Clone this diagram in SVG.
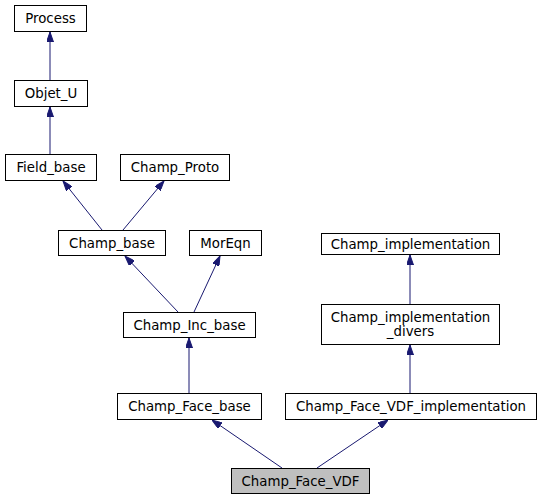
<svg xmlns="http://www.w3.org/2000/svg" width="541" height="500" viewBox="0 0 541 500">
<style>
.n rect{fill:#fff;stroke:#000;stroke-width:1}
.n text{font-family:"DejaVu Sans",sans-serif;font-size:13.33px;text-anchor:middle;fill:#000}
.e path{fill:none;stroke:#191970;stroke-width:1;marker-end:url(#a)}
</style>
<defs>
<marker id="a" viewBox="0 0 10 7" refX="10" refY="3.5" markerWidth="10" markerHeight="7" orient="auto" markerUnits="userSpaceOnUse">
<path d="M0,0 L10,3.5 L0,7 Z" fill="#191970" stroke="#191970"/>
</marker>
</defs>
<rect width="541" height="500" fill="#fff"/>
<g class="e">
<path d="M50,80 L50,32"/>
<path d="M50,154 L50,107"/>
<path d="M102,230 L63,181"/>
<path d="M123,230 L164,181"/>
<path d="M178,312 L125,256"/>
<path d="M194,312 L220,256"/>
<path d="M189,393 L189,338"/>
<path d="M282,468 L212,420"/>
<path d="M317,468 L388,420"/>
<path d="M410,304 L410,255"/>
<path d="M410,393 L410,345"/>
</g>
<g id="Process" class="n"><rect x="14.5" y="5.5" width="72" height="26"/><text x="50.5" y="23">Process</text></g>
<g id="Objet_U" class="n"><rect x="14.5" y="80.5" width="73" height="26"/><text x="51" y="98">Objet_U</text></g>
<g id="Field_base" class="n"><rect x="5.5" y="154.5" width="91" height="26"/><text x="51" y="172">Field_base</text></g>
<g id="Champ_Proto" class="n"><rect x="120.5" y="154.5" width="109" height="26"/><text x="175" y="172">Champ_Proto</text></g>
<g id="Champ_base" class="n"><rect x="58.5" y="230.5" width="107" height="25"/><text x="112" y="247.5">Champ_base</text></g>
<g id="MorEqn" class="n"><rect x="189.5" y="230.5" width="72" height="25"/><text x="225.5" y="247.5">MorEqn</text></g>
<g id="Champ_Inc_base" class="n"><rect x="123.5" y="312.5" width="132" height="25"/><text x="189.5" y="329.5">Champ_Inc_base</text></g>
<g id="Champ_implementation" class="n"><rect x="321.5" y="233.5" width="178" height="21"/><text x="410.5" y="248.5">Champ_implementation</text></g>
<g id="Champ_implementation_divers" class="n"><rect x="321.5" y="304.5" width="178" height="40"/><text x="410.5" y="321.5">Champ_implementation</text><text x="410.5" y="335.5">_divers</text></g>
<g id="Champ_Face_base" class="n"><rect x="117.5" y="393.5" width="144" height="26"/><text x="189.5" y="411">Champ_Face_base</text></g>
<g id="Champ_Face_VDF_implementation" class="n"><rect x="285.5" y="393.5" width="251" height="26"/><text x="411" y="411">Champ_Face_VDF_implementation</text></g>
<g id="Champ_Face_VDF" class="n"><rect x="231.5" y="468.5" width="138" height="25" style="fill:#bfbfbf"/><text x="300.5" y="486">Champ_Face_VDF</text></g>
</svg>
